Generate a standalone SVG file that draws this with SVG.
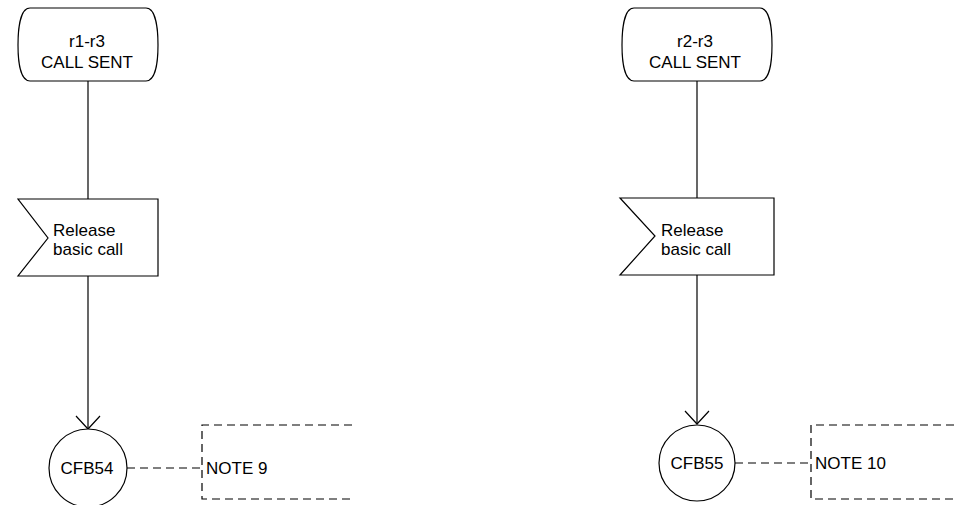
<svg xmlns="http://www.w3.org/2000/svg" width="954" height="505" viewBox="0 0 954 505">
  <defs>
    <style>
      .shape { fill: #fff; stroke: #000; stroke-width: 1.2; }
      .line { fill: none; stroke: #000; stroke-width: 1.2; }
      .dash { fill: none; stroke: #000; stroke-width: 1.2; stroke-dasharray: 8 5; }
      .t { font-family: "Liberation Sans", Arial, sans-serif; font-size: 17px; fill: #000; }
      .c { text-anchor: middle; }
    </style>
  </defs>

  <g id="connectors">
    <!-- left flow -->
    <line class="line" x1="88" y1="81" x2="88" y2="199"/>
    <line class="line" x1="88" y1="276" x2="88" y2="429"/>
    <path class="line" d="M76,416 L88,429 L100,416"/>
    <line class="dash" x1="127" y1="468" x2="202" y2="468"/>
    <!-- right flow -->
    <line class="line" x1="697" y1="81" x2="697" y2="198"/>
    <line class="line" x1="697" y1="275" x2="697" y2="424"/>
    <path class="line" d="M685,411 L697,424 L709,411"/>
    <line class="dash" x1="735" y1="463" x2="811" y2="463"/>
  </g>

  <!-- left column -->
  <g id="state-r1-r3">
    <path class="shape" d="M30,8 H146 C156,8 158,30 158,45 C158,60 156,81 146,81 H30 C20,81 18,60 18,45 C18,30 20,8 30,8 Z"/>
    <text class="t c" x="87" y="47">r1-r3</text>
    <text class="t c" x="87" y="68">CALL SENT</text>
  </g>
  <g id="input-release-1">
    <path class="shape" d="M18,199 H158 V276 H18 L48,238 Z"/>
    <text class="t" x="53" y="236">Release</text>
    <text class="t" x="53" y="255">basic call</text>
  </g>
  <g id="connector-cfb54">
    <circle class="shape" cx="88" cy="468" r="39"/>
    <text class="t c" x="87" y="474">CFB54</text>
  </g>
  <g id="note-9">
    <path class="dash" d="M352,425 H202 V499 H352"/>
    <text class="t" x="206" y="474">NOTE 9</text>
  </g>

  <!-- right column -->
  <g id="state-r2-r3">
    <path class="shape" d="M634,8 H760 C770,8 772,30 772,45 C772,60 770,81 760,81 H634 C624,81 622,60 622,45 C622,30 624,8 634,8 Z"/>
    <text class="t c" x="695" y="47">r2-r3</text>
    <text class="t c" x="695" y="68">CALL SENT</text>
  </g>
  <g id="input-release-2">
    <path class="shape" d="M620,198 H774 V275 H620 L655,236 Z"/>
    <text class="t" x="661" y="236">Release</text>
    <text class="t" x="661" y="255">basic call</text>
  </g>
  <g id="connector-cfb55">
    <circle class="shape" cx="697" cy="463" r="38"/>
    <text class="t c" x="697" y="469">CFB55</text>
  </g>
  <g id="note-10">
    <path class="dash" d="M954,425 H811 V499 H954"/>
    <text class="t" x="815" y="469">NOTE 10</text>
  </g>
</svg>
